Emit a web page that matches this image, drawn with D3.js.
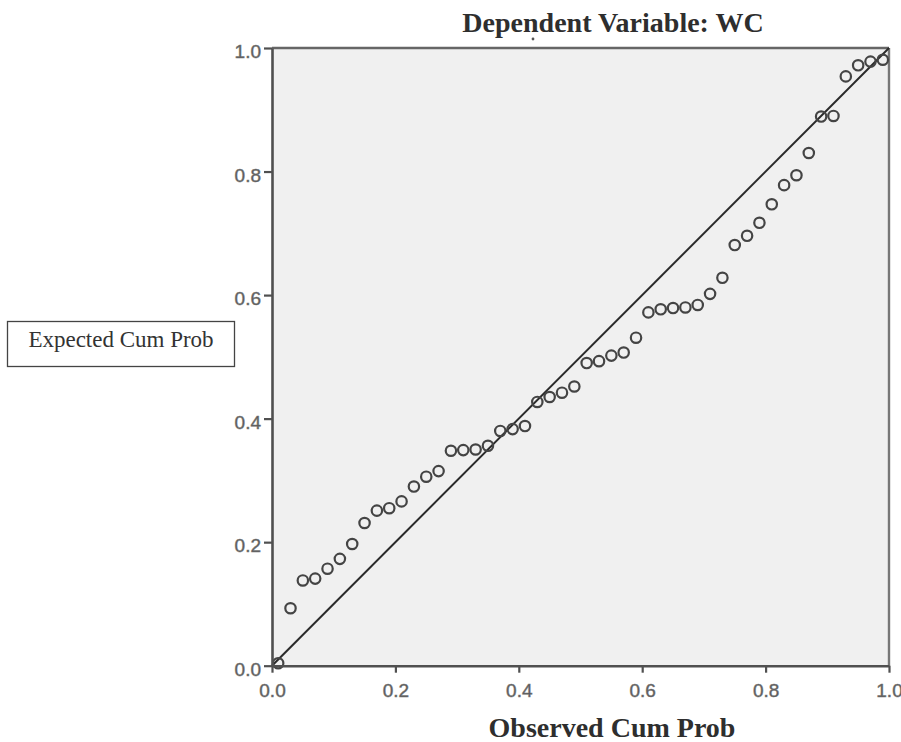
<!DOCTYPE html>
<html>
<head>
<meta charset="utf-8">
<script src="https://cdn.jsdelivr.net/npm/d3@7"></script>
<style>
  html, body { margin: 0; padding: 0; background: #fff; }
  svg { display: block; }
</style>
</head>
<body>
<div id="chart"></div>
<script>
// observed cumulative probability (x) and expected cumulative probability (y)
const observedCumProb = [
  0.01, 0.03, 0.05, 0.07, 0.09, 0.11, 0.13, 0.15, 0.17, 0.19,
  0.21, 0.23, 0.25, 0.27, 0.29, 0.31, 0.33, 0.35, 0.37, 0.39,
  0.41, 0.43, 0.45, 0.47, 0.49, 0.51, 0.53, 0.55, 0.57, 0.59,
  0.61, 0.63, 0.65, 0.67, 0.69, 0.71, 0.73, 0.75, 0.77, 0.79,
  0.81, 0.83, 0.85, 0.87, 0.89, 0.91, 0.93, 0.95, 0.97, 0.99
];
const expectedCumProb = [
  0.004, 0.093, 0.138, 0.141, 0.157, 0.173, 0.197, 0.231, 0.251, 0.255,
  0.266, 0.290, 0.306, 0.315, 0.348, 0.349, 0.350, 0.356, 0.380, 0.383,
  0.388, 0.427, 0.435, 0.442, 0.452, 0.490, 0.493, 0.502, 0.507, 0.531,
  0.572, 0.577, 0.579, 0.580, 0.584, 0.602, 0.628, 0.681, 0.696, 0.717,
  0.747, 0.778, 0.794, 0.830, 0.889, 0.890, 0.954, 0.972, 0.978, 0.981
];
const tickValues = [0, 0.2, 0.4, 0.6, 0.8, 1.0];

const chartTitle = "Dependent Variable: WC";
const xTitle = "Observed Cum Prob";
const yTitle = "Expected Cum Prob";

const W = 901, H = 742;
const plot = { left: 272, right: 889, top: 48, bottom: 665.7 };

const svg = d3.select("#chart").append("svg")
  .attr("width", W).attr("height", H);

const x = d3.scaleLinear().domain([0, 1]).range([plot.left, plot.right]);
const y = d3.scaleLinear().domain([0, 1]).range([plot.bottom, plot.top]);

// plot background
svg.append("rect")
  .attr("x", plot.left).attr("y", plot.top)
  .attr("width", plot.right - plot.left).attr("height", plot.bottom - plot.top)
  .attr("fill", "#f0f0f0");

// top and right frame lines
svg.append("line")
  .attr("x1", plot.left).attr("x2", plot.right)
  .attr("y1", plot.top).attr("y2", plot.top)
  .attr("stroke", "#666").attr("stroke-width", 2.4);
svg.append("line")
  .attr("x1", plot.right).attr("x2", plot.right)
  .attr("y1", plot.top).attr("y2", plot.bottom)
  .attr("stroke", "#777").attr("stroke-width", 2.4);

// reference diagonal
svg.append("line")
  .attr("x1", x(0)).attr("y1", y(0))
  .attr("x2", x(1)).attr("y2", y(1))
  .attr("stroke", "#2a2a2a").attr("stroke-width", 2);

// points
const pts = observedCumProb.map((v, i) => ({ ox: v, ey: expectedCumProb[i] }));
svg.append("g").selectAll("circle")
  .data(pts)
  .join("circle")
    .attr("cx", d => x(d.ox))
    .attr("cy", d => y(d.ey))
    .attr("r", 5.2)
    .attr("fill", "none")
    .attr("stroke", "#444")
    .attr("stroke-width", 2.2);

// axes
const tickFont = "'Liberation Sans', Arial, sans-serif";

const yAxis = svg.append("g")
  .attr("transform", `translate(${plot.left},0)`)
  .call(d3.axisLeft(y).tickValues(tickValues).tickFormat(d3.format(".1f"))
    .tickSize(8).tickPadding(3).tickSizeOuter(0));
yAxis.select(".domain").attr("stroke", "#505050").attr("stroke-width", 2.6);
yAxis.selectAll(".tick line").attr("stroke", "#505050").attr("stroke-width", 2.2);
yAxis.selectAll(".tick text")
  .attr("fill", "#5a5a5a").attr("stroke", "#777").attr("stroke-width", 0.5)
  .attr("dy", "0.5em")
  .style("font-family", tickFont).style("font-size", "19px");

const xAxis = svg.append("g")
  .attr("transform", `translate(0,${plot.bottom})`)
  .call(d3.axisBottom(x).tickValues(tickValues).tickFormat(d3.format(".1f"))
    .tickSize(7).tickPadding(11).tickSizeOuter(0));
xAxis.select(".domain").attr("stroke", "#505050").attr("stroke-width", 2.6);
xAxis.selectAll(".tick line").attr("stroke", "#505050").attr("stroke-width", 2.2);
xAxis.selectAll(".tick text")
  .attr("fill", "#5a5a5a").attr("stroke", "#777").attr("stroke-width", 0.5)
  .style("font-family", tickFont).style("font-size", "19px");

// titles
const serif = "'Liberation Serif', 'Times New Roman', serif";

svg.append("text")
  .attr("x", 613).attr("y", 32)
  .attr("text-anchor", "middle")
  .style("font-family", serif).style("font-size", "28px").style("font-weight", "bold")
  .attr("fill", "#2e2e2e")
  .text(chartTitle);

// small stray mark under the title
svg.append("circle")
  .attr("cx", 533).attr("cy", 39).attr("r", 1.4).attr("fill", "#555");

svg.append("text")
  .attr("x", 612).attr("y", 737)
  .attr("text-anchor", "middle")
  .style("font-family", serif).style("font-size", "28px").style("font-weight", "bold")
  .attr("fill", "#2e2e2e")
  .text(xTitle);

// boxed y-axis label
svg.append("rect")
  .attr("x", 7.5).attr("y", 321.5).attr("width", 227).attr("height", 45)
  .attr("fill", "#fff").attr("stroke", "#444").attr("stroke-width", 1.3);
svg.append("text")
  .attr("x", 121).attr("y", 347)
  .attr("text-anchor", "middle")
  .style("font-family", serif).style("font-size", "23px")
  .attr("fill", "#333")
  .text(yTitle);
</script>
</body>
</html>
